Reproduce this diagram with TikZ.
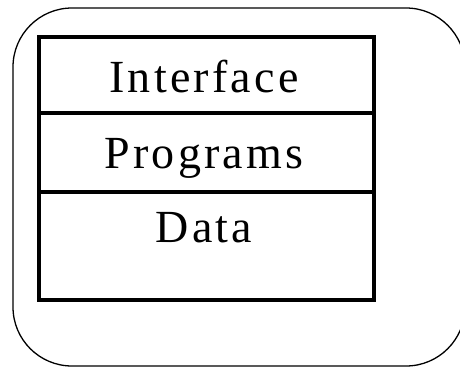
\documentclass[tikz,border=0pt]{standalone}
\usepackage{fontspec}
\setmainfont{Liberation Serif}
\newfontfamily\spacedserif[LetterSpace=7]{Liberation Serif}
\begin{document}
\begin{tikzpicture}[x=1bp,y=-1bp,
  outerbox/.style={draw=black,line width=1.3bp,rounded corners=59bp},
  layerbox/.style={draw=black,line width=3.3bp},
  layertext/.style={anchor=base,inner sep=0pt,font=\spacedserif\fontsize{46bp}{50bp}\selectfont}]
\useasboundingbox (0,0) rectangle (460,368);
\fill[white] (0,0) rectangle (460,368);
\begin{scope}
\clip (0,0) rectangle (460,368);
\draw[outerbox] (13,8) rectangle (465,366);
\end{scope}
\draw[layerbox] (39,37) rectangle (374,300);
\draw[layerbox] (39,113) -- (374,113);
\draw[layerbox] (39,192) -- (374,192);
\node[layertext] (interface) at (204,92) {Interface};
\node[layertext] (programs) at (204,168) {Programs};
\node[layertext] (data) at (204,242) {Data};
\end{tikzpicture}
\end{document}
